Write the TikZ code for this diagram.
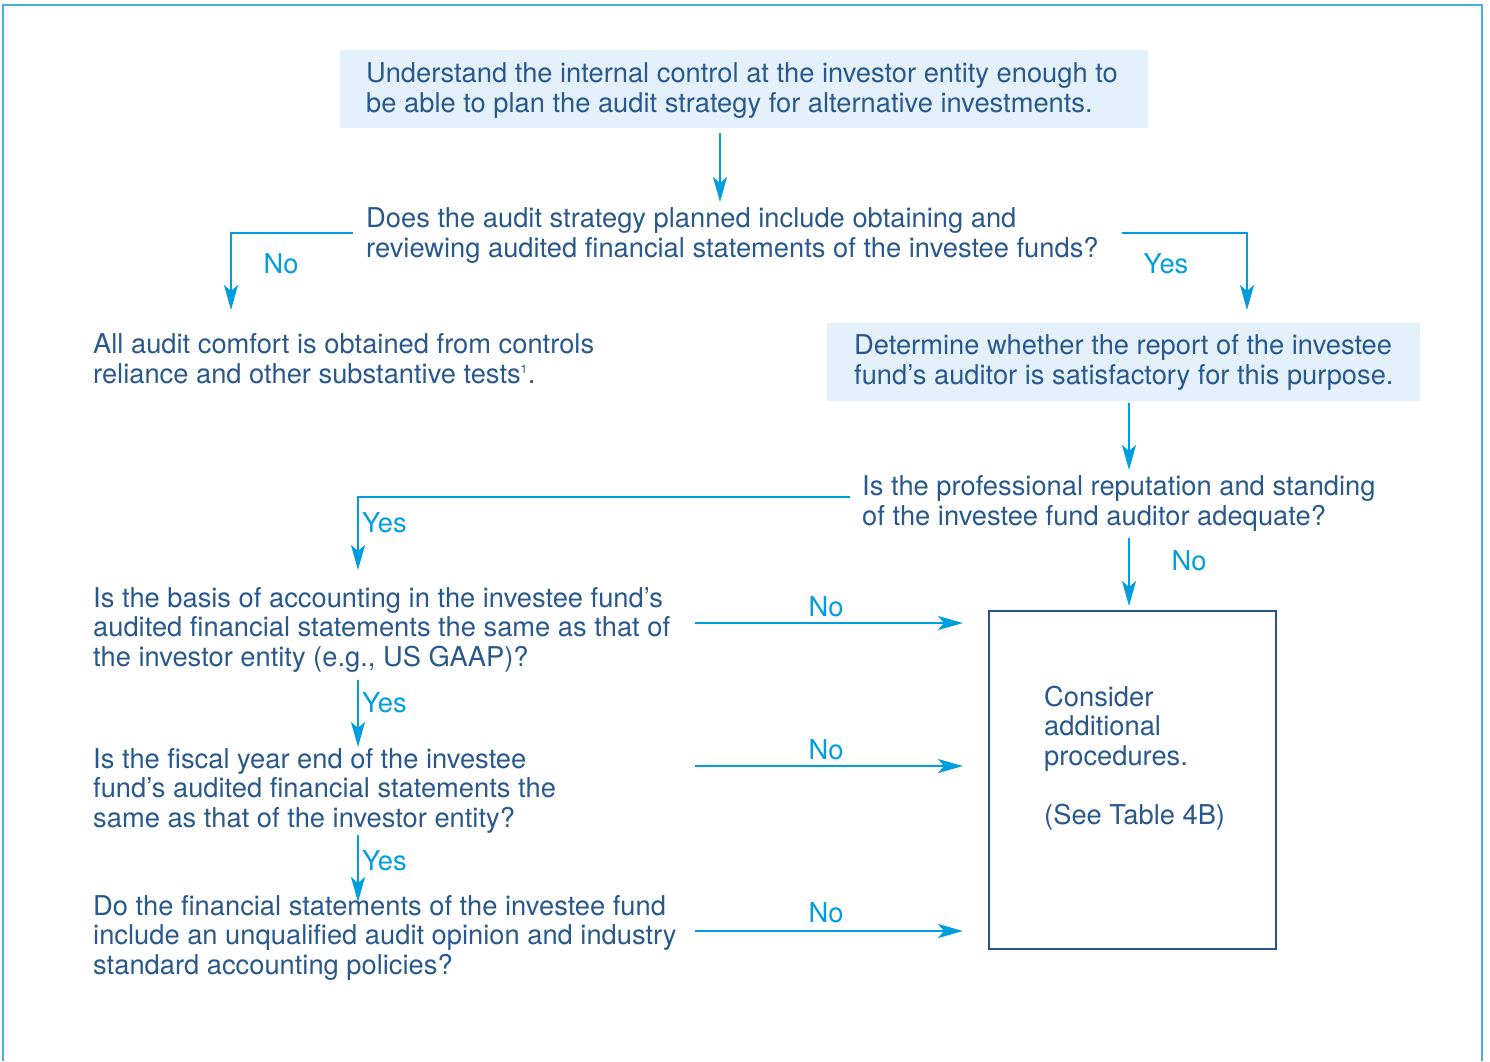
\documentclass[tikz,border=0pt]{standalone}
\usepackage{fontspec}
\setmainfont{TeX Gyre Heros}
\usetikzlibrary{arrows.meta}
\definecolor{cy}{RGB}{0,158,222}
\definecolor{txt}{RGB}{40,88,140}
\definecolor{boxfill}{RGB}{228,241,250}
\definecolor{frame}{RGB}{70,178,226}
\definecolor{resb}{RGB}{45,82,135}
\tikzset{
  every node/.style={font=\fontsize{27.3}{29.5}\selectfont, inner sep=0pt},
  txtnode/.style={text=txt, align=left, anchor=base west},
  fillbox/.style={fill=boxfill, draw=none},
  lbl/.style={text=cy},
  conn/.style={draw=cy, line width=2.7pt, -{Stealth[length=25pt,width=14pt,inset=6pt]}},
}
\begin{document}
\begin{tikzpicture}[x=1pt,y=-1pt]
\useasboundingbox (0,0) rectangle (1490,1061);
% outer frame
\draw[frame, line width=2pt] (3,1061) -- (3,5) -- (1482,5) -- (1482,1061);

% box 1
\node[fillbox, minimum width=808pt, minimum height=78pt, anchor=north west] (b1) at (340,50) {};
\node[txtnode] (t1) at (366,112) {Understand the internal control at the investor entity enough to\\be able to plan the audit strategy for alternative investments.};

% question 1
\node[txtnode] (q1) at (366,257) {Does the audit strategy planned include obtaining and\\reviewing audited financial statements of the investee funds?};
\coordinate (b1bot) at (720,133);
\coordinate (q1top) at (720,202);
\draw[conn] (b1bot) -- (q1top);

% left result
\node[txtnode] (r1) at (93,383) {All audit comfort is obtained from controls\\reliance and other substantive tests\textsuperscript{\fontsize{12}{12}\selectfont 1}.};
\coordinate (r1top) at (231,310);
\coordinate (q1l) at (353,233);
\draw[conn] (q1l) -| (r1top);
\node[lbl] (no1) at (281,264) {No};

% box 2
\node[fillbox, minimum width=593pt, minimum height=78pt, anchor=north west] (b2) at (827,323) {};
\node[txtnode] (t2) at (854,384) {Determine whether the report of the investee\\fund’s auditor is satisfactory for this purpose.};
\coordinate (b2top) at (1247,310);
\coordinate (q1r) at (1122,233);
\draw[conn] (q1r) -| (b2top);
\node[lbl] (yes1) at (1166,264) {Yes};

% question 2
\node[txtnode] (q2) at (862,525) {Is the professional reputation and standing\\of the investee fund auditor adequate?};
\coordinate (q2top) at (1129,470);
\coordinate (b2bot) at (1129,403);
\draw[conn] (b2bot) -- (q2top);

% result box
\node[draw=resb, line width=2.2pt, minimum width=287pt, minimum height=338pt, anchor=north west] (res) at (988,610) {};
\node[txtnode] (rt) at (1044,824) {Consider\\additional\\procedures.\\[29.5pt](See Table 4B)};
\coordinate (q2bot) at (1129,538);
\coordinate (restop) at (1129,606);
\draw[conn] (q2bot) -- (restop);
\node[lbl] (no2) at (1189,561) {No};

% question 3
\node[txtnode] (q3) at (93,666) {Is the basis of accounting in the investee fund’s\\audited financial statements the same as that of\\the investor entity (e.g., US GAAP)?};
\coordinate (q2l) at (850,497);
\coordinate (q3top) at (358,570);
\draw[conn] (q2l) -| (q3top);
\node[lbl, anchor=west] (yes2) at (362,523) {Yes};
\coordinate (q3r) at (695,623);
\coordinate (res3) at (963,623);
\draw[conn] (q3r) -- (res3);
\node[lbl] (no3) at (826,607) {No};

% question 4
\node[txtnode] (q4) at (93,827) {Is the fiscal year end of the investee\\fund’s audited financial statements the\\same as that of the investor entity?};
\coordinate (q3bot) at (358,680);
\coordinate (q4top) at (358,747);
\draw[conn] (q3bot) -- (q4top);
\node[lbl, anchor=west] (yes3) at (362,703) {Yes};
\coordinate (q4r) at (695,766);
\coordinate (res4) at (963,766);
\draw[conn] (q4r) -- (res4);
\node[lbl] (no4) at (826,750) {No};

% question 5
\node[txtnode] (q5) at (93,974) {Do the financial statements of the investee fund\\include an unqualified audit opinion and industry\\standard accounting policies?};
\coordinate (q4bot) at (358,835);
\coordinate (q5top) at (358,902);
\draw[conn] (q4bot) -- (q5top);
\node[lbl, anchor=west] (yes4) at (362,861) {Yes};
\coordinate (q5r) at (695,931);
\coordinate (res5) at (963,931);
\draw[conn] (q5r) -- (res5);
\node[lbl] (no5) at (826,913) {No};
\end{tikzpicture}
\end{document}
